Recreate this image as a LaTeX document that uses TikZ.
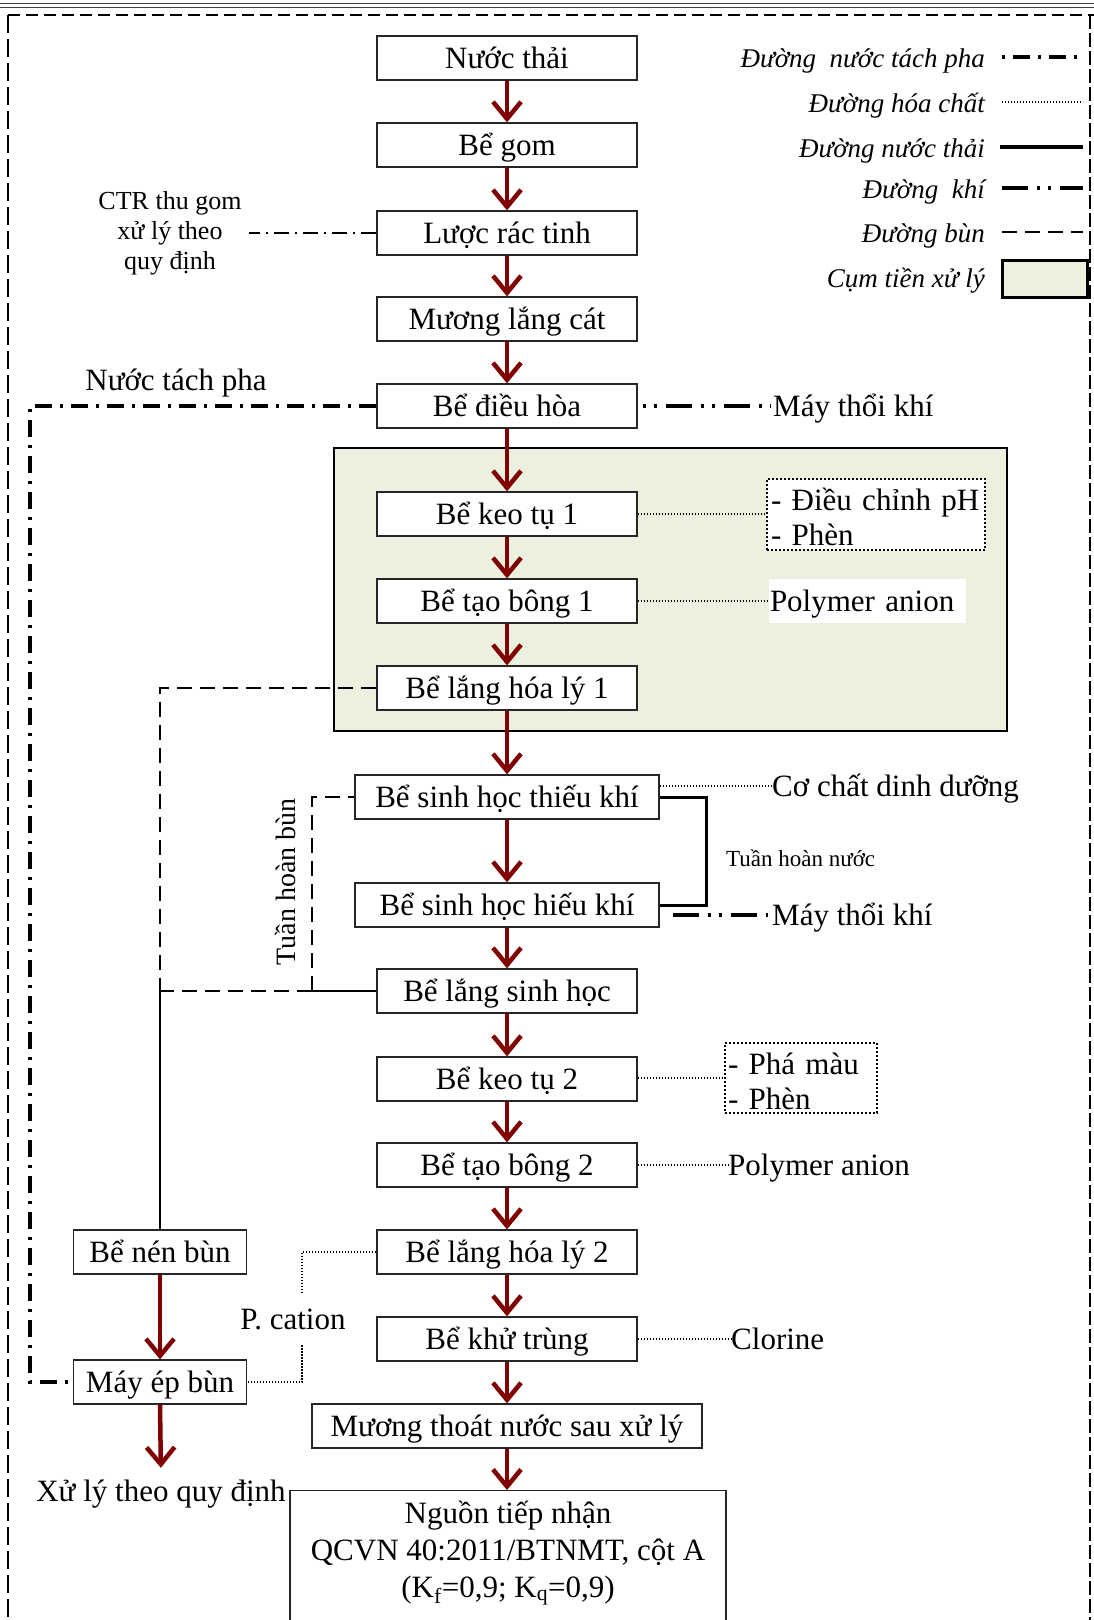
\documentclass[tikz,border=0pt]{standalone}
\usepackage{fontspec}
\setmainfont{Liberation Serif}
\usetikzlibrary{arrows.meta}
\definecolor{arrowred}{RGB}{128,0,0}
\definecolor{pregreen}{RGB}{235,241,222}
\begin{document}
\begin{tikzpicture}[x=1pt,y=-1pt,
  every node/.style={inner sep=0pt},
  fbig/.style={font=\fontsize{31}{37}\selectfont},
  box/.style={fbig, draw=black!85, line width=1.3pt, fill=white, minimum height=44pt, text height=24pt, text depth=4pt},
  lbl/.style={fbig, text height=24pt, text depth=4pt},
  lg/.style={font=\fontsize{27}{32}\selectfont\itshape, anchor=east, text height=23pt, text depth=3pt},
  flow/.style={draw=arrowred, line width=4.5pt, -{Straight Barb[length=17pt,width=28pt]}},
  chem/.style={line width=1.3pt, dash pattern=on 1.3pt off 1.7pt},
  chembox/.style={draw, line width=2pt, dash pattern=on 2pt off 2pt, fill=white},
  sludge/.style={line width=2.6pt, dash pattern=on 15pt off 8pt},
  sludgesolid/.style={line width=2.4pt},
  sepline/.style={line width=3.5pt, dash pattern=on 17pt off 8pt on 3pt off 8pt},
  airline/.style={line width=3.5pt, dash pattern=on 26pt off 9pt on 3pt off 8pt on 3pt off 9pt},
  ctrline/.style={line width=1.2pt, dash pattern=on 15pt off 6pt on 2pt off 6pt},
  water/.style={line width=3pt},
]
\useasboundingbox (0,0) rectangle (1094,1620);

% outer frame
\draw[line width=1pt, black!75] (0,3.5) -- (1094,3.5) (0,7) -- (1094,7);
\draw[line width=2.5pt, dash pattern=on 12pt off 6pt] (8,15) -- (1094,15);
\draw[line width=1.2pt, dash pattern=on 18pt off 6pt] (8,15) -- (8,1620);
\draw[line width=2.5pt, dash pattern=on 14pt off 4pt] (1090,15) -- (1090,1620);

% pre-treatment group
\node[draw, line width=2.5pt, fill=pregreen, minimum width=673pt, minimum height=283pt] (grp) at (670.5,589.5) {};

% main boxes
\node[box, minimum width=260pt] (n1) at (507,58) {Nước thải};
\node[box, minimum width=260pt] (n2) at (507,145) {Bể gom};
\node[box, minimum width=260pt] (n3) at (507,233) {Lược rác tinh};
\node[box, minimum width=260pt] (n4) at (507,319) {Mương lắng cát};
\node[box, minimum width=260pt] (n5) at (507,406) {Bể điều hòa};
\node[box, minimum width=260pt] (n6) at (507,514) {Bể keo tụ 1};
\node[box, minimum width=260pt] (n7) at (507,601) {Bể tạo bông 1};
\node[box, minimum width=260pt] (n8) at (507,688) {Bể lắng hóa lý 1};
\node[box, minimum width=304pt] (n9) at (507,797) {Bể sinh học thiếu khí};
\node[box, minimum width=304pt] (n10) at (507,905) {Bể sinh học hiếu khí};
\node[box, minimum width=260pt] (n11) at (507,991) {Bể lắng sinh học};
\node[box, minimum width=260pt] (n12) at (507,1079) {Bể keo tụ 2};
\node[box, minimum width=260pt] (n13) at (507,1165) {Bể tạo bông 2};
\node[box, minimum width=260pt] (n14) at (507,1252) {Bể lắng hóa lý 2};
\node[box, minimum width=260pt] (n15) at (507,1339) {Bể khử trùng};
\node[box, minimum width=390pt] (n16) at (507,1426) {Mương thoát nước sau xử lý};
\node[draw=black!85, line width=1.3pt, fill=white, minimum width=436pt, minimum height=160pt, anchor=north] (n17) at (508,1490) {};
\node[align=center, font=\fontsize{31}{37}\selectfont] (n17t) at (508,1553) {Nguồn tiếp nhận\\QCVN 40:2011/BTNMT, cột A\\(K\textsubscript{f}=0,9; K\textsubscript{q}=0,9)};

\node[box, minimum width=173pt] (nen) at (160,1252) {Bể nén bùn};
\node[box, minimum width=173pt] (mayep) at (160,1382) {Máy ép bùn};
\node[lbl] (xl) at (161,1491) {Xử lý theo quy định};

% main flow arrows
\foreach \a/\b in {n1/n2,n2/n3,n3/n4,n4/n5,n5/n6,n6/n7,n7/n8,n8/n9,n9/n10,n10/n11,n11/n12,n12/n13,n13/n14,n14/n15,n15/n16}
  \draw[flow] (\a.south) -- (\b.north);
\draw[flow] (n16.south) -- (n16.south |- n17.north);
\draw[flow] (nen.south) -- (mayep.north);
\draw[flow, shorten >=9pt] (mayep.south) -- (xl.north);

% CTR
\node[align=center, font=\fontsize{26}{30}\selectfont] (ctr) at (170,233.5) {CTR thu gom\\xử lý theo\\quy định};
\draw[ctrline] (n3.west) -- ([xshift=7pt]n3.west -| ctr.east);

% separated water line
\node[lbl] (ntp) at (176,380) {Nước tách pha};
\coordinate (sepc) at (30,1382);
\draw[sepline] (n5.west) -| (sepc) -- (mayep.west);

% air blowers
\node[lbl, anchor=west] (mt1) at (773,406) {Máy thổi khí};
\draw[airline, dash phase=30pt] (n5.east) -- ([xshift=-3pt]mt1.west);
\node[lbl, anchor=west] (mt2) at (772,915) {Máy thổi khí};
\draw[airline] ([xshift=13pt]n10.east |- mt2.west) -- ([xshift=-4pt]mt2.west);

% chemicals
\node[chembox, minimum width=218pt, minimum height=71pt] (d1) at (876,514) {};
\node[text width=210pt, align=left, font=\fontsize{31}{35}\selectfont] (d1t) at (876,517) {- Điều chỉnh pH\\- Phèn};
\draw[chem] (n6.east) -- (d1.west);
\node[fill=white, minimum width=197pt, minimum height=44pt, text width=195pt, align=left, fbig, text height=24pt, text depth=4pt] (pa1) at (867.5,601) {Polymer anion};
\draw[chem] (n7.east) -- (pa1.west);
\node[lbl, anchor=west] (cc) at (772,786) {Cơ chất dinh dưỡng};
\draw[chem] (n9.east |- cc.west) -- (cc.west);
\node[chembox, minimum width=152pt, minimum height=70pt] (d2) at (801,1078) {};
\node[text width=146pt, align=left, font=\fontsize{31}{35}\selectfont] (d2t) at (801,1081) {- Phá màu\\- Phèn};
\draw[chem] (n12.east |- d2.west) -- (d2.west);
\node[lbl, anchor=west] (pa2) at (728,1165) {Polymer anion};
\draw[chem] (n13.east) -- (pa2.west);
\node[lbl, anchor=west] (cl) at (731,1339) {Clorine};
\draw[chem] (n15.east) -- (cl.west);
\node[lbl, inner ysep=12pt] (pc) at (293,1319) {P. cation};
\coordinate (pcx) at (302,1252);
\draw[chem] (n14.west) -- (pcx) -- (pcx |- pc.north);
\draw[chem] (pcx |- pc.south) |- (mayep.east);

% water recirculation
\draw[water] (n9.east) -| ([xshift=47pt]n10.east) -- (n10.east);
\node[font=\fontsize{23}{27}\selectfont, anchor=west] (thn) at (726,858) {Tuần hoàn nước};

% sludge
\coordinate (s1) at (160,688);
\coordinate (s2) at (160,991);
\coordinate (r1) at (312,991);
\draw[sludge] (n8.west) -- (s1) -- (s2);
\draw[sludgesolid] (n11.west) -- (r1);
\draw[sludge] (r1) -- (s2);
\draw[sludge] (r1) |- (n9.west);
\draw[sludgesolid] (s2) -- (nen.north);
\node[rotate=90, font=\fontsize{28}{32}\selectfont] (thb) at (285,882) {Tuần hoàn bùn};

% legend
\node[lg] (lg1) at (985,57) {Đường~~nước tách pha};
\node[lg] (lg2) at (985,102) {Đường hóa chất};
\node[lg] (lg3) at (985,147) {Đường nước thải};
\node[lg] (lg4) at (985,188) {Đường~~khí};
\node[lg] (lg5) at (985,232) {Đường bùn};
\node[lg] (lg6) at (985,277) {Cụm tiền xử lý};
\draw[sepline, dash phase=25pt] (1002,57) -- (1083,57);
\draw[chem] (1002,102) -- (1083,102);
\draw[line width=4pt] (1000,147) -- (1083,147);
\draw[airline] (1002,188) -- (1083,188);
\draw[sludge] (1002,232) -- (1083,232);
\node[draw, line width=3pt, fill=pregreen, minimum width=85pt, minimum height=37pt] (lgrect) at (1044.5,278.5) {};
\end{tikzpicture}
\end{document}
